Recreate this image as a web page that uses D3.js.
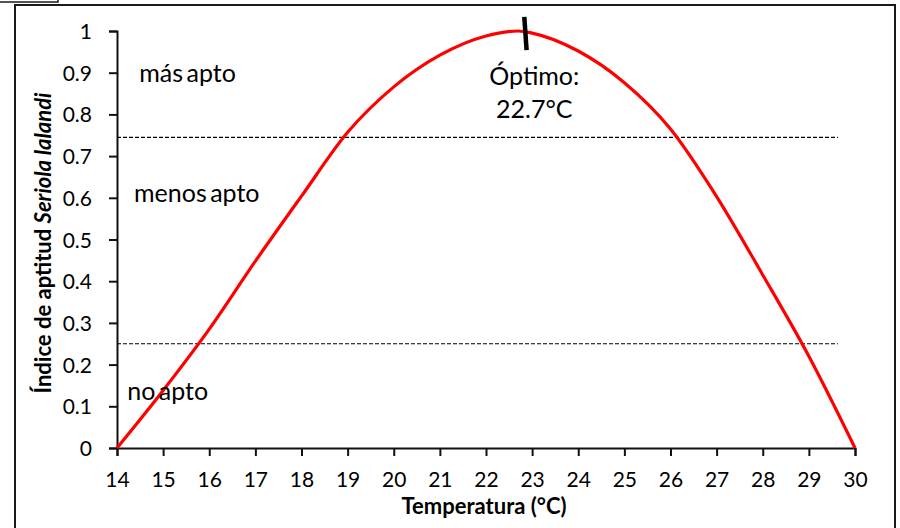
<!DOCTYPE html>
<html>
<head>
<meta charset="utf-8">
<script src="https://cdn.jsdelivr.net/npm/d3@7"></script>
<style>
    body { margin: 0; background: white; }
    svg { display: block; font-family: Lato, "Open Sans", sans-serif; }
</style>
</head>
<body>
<div id="chart"></div>
<script>

// temperatura (°C) vs índice de aptitud
var temps = [14, 15, 16, 17, 18, 19, 20, 21, 22, 22.7, 23, 24, 25, 26, 27, 28, 29, 30];
var aptitud = [0, 0.138, 0.285, 0.448, 0.604, 0.757, 0.866, 0.942, 0.988, 1.0, 0.995, 0.952, 0.876, 0.765, 0.603, 0.415, 0.22, 0];

var xTicks = [14, 15, 16, 17, 18, 19, 20, 21, 22, 23, 24, 25, 26, 27, 28, 29, 30];
var yTicks = [0, 0.1, 0.2, 0.3, 0.4, 0.5, 0.6, 0.7, 0.8, 0.9, 1];

var umbrales = [0.25, 0.745];
var umbralRango = [14, 29.63];

var zonas = [
    {label: 'más apto', t: 15.53, v: 0.878},
    {label: 'menos apto', t: 15.73, v: 0.59},
    {label: 'no apto', t: 15.1, v: 0.115}
];

var optimo = 22.7;

var width = 900, height = 528;

var svg = d3.select('#chart').append('svg')
    .attr('width', width)
    .attr('height', height);

// marco exterior
svg.append('rect')
    .attr('x', 15).attr('y', 5)
    .attr('width', 880).attr('height', 540)
    .attr('fill', 'none')
    .attr('stroke', '#1a1a1a')
    .attr('stroke-width', 2);

svg.append('rect')
    .attr('x', -5).attr('y', -10)
    .attr('width', 63).attr('height', 12)
    .attr('fill', 'none')
    .attr('stroke', '#1a1a1a')
    .attr('stroke-width', 1.5);

var x = d3.scaleLinear().domain([14, 30]).range([117, 855]);
var y = d3.scaleLinear().domain([0, 1]).range([448, 31]);

// ejes
var xAxis = svg.append('g')
    .attr('transform', 'translate(0,' + y(0) + ')')
    .call(d3.axisBottom(x).tickValues(xTicks).tickSize(8).tickPadding(16).tickFormat(d3.format('d')));

var yAxis = svg.append('g')
    .attr('transform', 'translate(' + x(14) + ',0)')
    .call(d3.axisLeft(y).tickValues(yTicks).tickSize(8).tickPadding(17).tickFormat(function (d) {
        return d === 0 || d === 1 ? d3.format('d')(d) : d3.format('.1f')(d);
    }));

[xAxis, yAxis].forEach(function (a) {
    a.select('.domain').attr('stroke', '#111').attr('stroke-width', 2);
    a.selectAll('.tick line').attr('stroke', '#111').attr('stroke-width', 2);
    a.selectAll('.tick text')
        .attr('fill', '#000')
        .style('font-size', '21px')
        .style('font-family', 'Lato, sans-serif');
});
yAxis.selectAll('.tick text').attr('dy', '0.36em');

// umbrales
svg.append('g')
    .selectAll('line')
    .data(umbrales)
    .enter().append('line')
    .attr('x1', x(umbralRango[0]))
    .attr('x2', x(umbralRango[1]))
    .attr('y1', function (d) { return y(d); })
    .attr('y2', function (d) { return y(d); })
    .attr('stroke', '#000')
    .attr('stroke-width', 1.2)
    .attr('stroke-dasharray', '4,2');

// curva
var line = d3.line()
    .x(function (d) { return x(d[0]); })
    .y(function (d) { return y(d[1]); })
    .curve(d3.curveMonotoneX);

svg.append('path')
    .datum(d3.zip(temps, aptitud))
    .attr('d', line)
    .attr('fill', 'none')
    .attr('stroke', '#ff0000')
    .attr('stroke-width', 3.2);

// marca del óptimo
svg.append('line')
    .attr('x1', x(optimo + 0.13)).attr('y1', y(1.034))
    .attr('x2', x(optimo + 0.18)).attr('y2', y(0.954))
    .attr('stroke', '#000')
    .attr('stroke-width', 4.5);

svg.append('text')
    .attr('x', x(optimo) + 16).attr('y', 85)
    .attr('text-anchor', 'middle')
    .style('font-size', '25px')
    .text('Óptimo:');

svg.append('text')
    .attr('x', x(optimo) + 16).attr('y', 118)
    .attr('text-anchor', 'middle')
    .style('font-size', '25px')
    .text(optimo + '°C');

// zonas
svg.append('g')
    .selectAll('text')
    .data(zonas)
    .enter().append('text')
    .attr('x', function (d) { return x(d.t); })
    .attr('y', function (d) { return y(d.v); })
    .attr('text-anchor', 'middle')
    .style('font-size', '25px')
    .style('word-spacing', '-3px')
    .text(function (d) { return d.label; });

// títulos
svg.append('text')
    .attr('x', 484).attr('y', 514)
    .attr('text-anchor', 'middle')
    .style('font-size', '22px')
    .style('font-weight', 'bold')
    .text('Temperatura (°C)');

var yTitle = svg.append('text')
    .attr('transform', 'translate(51,243) rotate(-90)')
    .attr('text-anchor', 'middle')
    .style('font-size', '22px')
    .style('font-weight', 'bold');
yTitle.append('tspan').text('Índice de aptitud ');
yTitle.append('tspan').style('font-style', 'italic').text('Seriola lalandi');

</script>
</body>
</html>
